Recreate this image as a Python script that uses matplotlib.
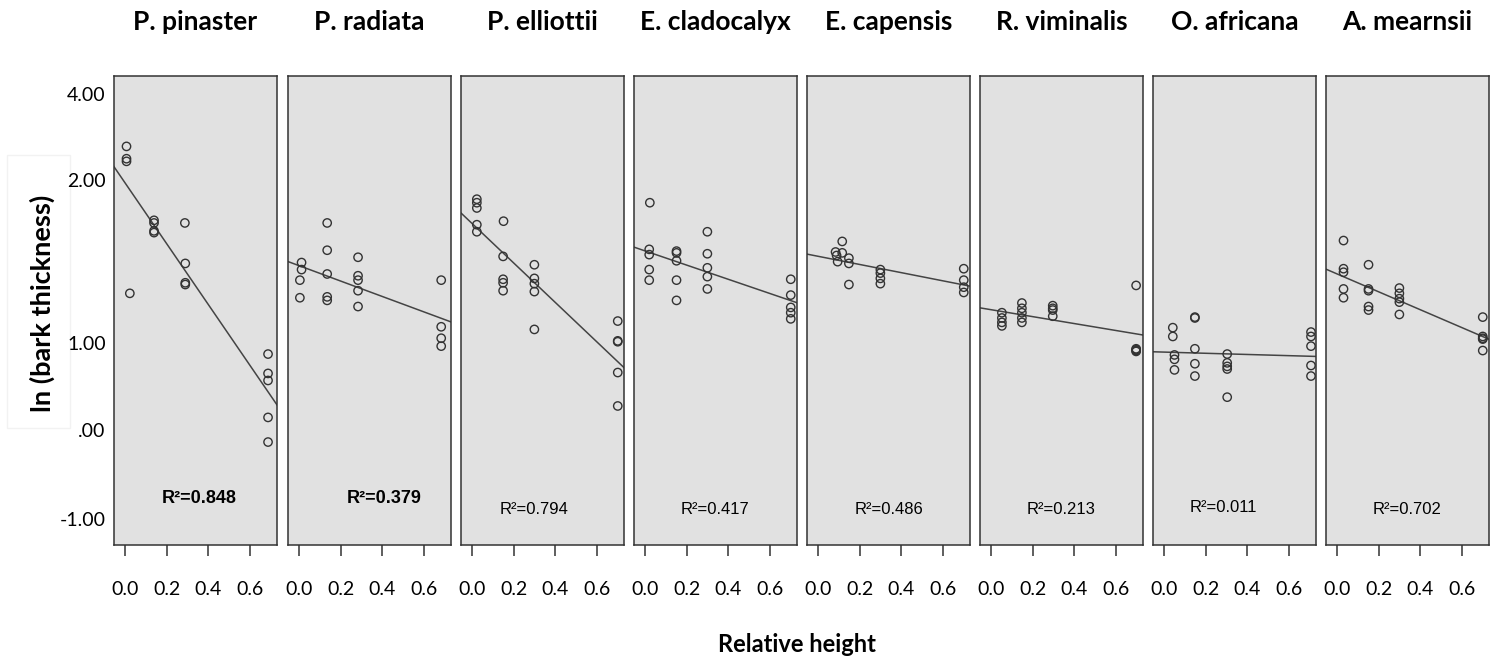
import numpy as np
import matplotlib
matplotlib.use("Agg")
import matplotlib.pyplot as plt
from matplotlib.patches import Rectangle

# species and R² printed in each panel
species = ["P. pinaster", "P. radiata", "P. elliottii", "E. cladocalyx",
           "E. capensis", "R. viminalis", "O. africana", "A. mearnsii"]
r2_labels = ["0.848", "0.379", "0.794", "0.417", "0.486", "0.213", "0.011", "0.702"]

# relative height / ln(bark thickness)
x_pinaster = [0.008, 0.008, 0.008, 0.024, 0.14, 0.14, 0.14, 0.14, 0.288, 0.29, 0.29, 0.29,
              0.687, 0.687, 0.687, 0.687, 0.687]
y_pinaster = [3.22, 3.08, 3.05, 1.55, 2.38, 2.35, 2.26, 2.24, 2.35, 1.89, 1.67, 1.65,
              0.86, 0.64, 0.56, 0.14, -0.14]

x_radiata = [0.013, 0.013, 0.005, 0.005, 0.136, 0.136, 0.136, 0.136, 0.136, 0.284, 0.284, 0.284,
             0.284, 0.284, 0.683, 0.683, 0.683, 0.683]
y_radiata = [1.90, 1.82, 1.70, 1.50, 2.35, 2.04, 1.77, 1.51, 1.47, 1.96, 1.75, 1.70,
             1.58, 1.40, 1.70, 1.17, 1.04, 0.95]

x_elliottii = [0.024, 0.024, 0.024, 0.024, 0.024, 0.152, 0.150, 0.150, 0.150, 0.150, 0.30, 0.30,
               0.30, 0.30, 0.30, 0.70, 0.70, 0.70, 0.70, 0.70]
y_elliottii = [2.62, 2.58, 2.52, 2.33, 2.25, 2.37, 1.97, 1.71, 1.67, 1.58, 1.875, 1.72,
               1.66, 1.57, 1.14, 1.235, 1.01, 1.00, 0.65, 0.27]

x_cladocalyx = [0.024, 0.021, 0.021, 0.021, 0.021, 0.152, 0.152, 0.152, 0.152, 0.152, 0.30, 0.30,
                0.30, 0.30, 0.30, 0.70, 0.70, 0.70, 0.70, 0.70]
y_cladocalyx = [2.58, 2.05, 1.99, 1.82, 1.70, 2.03, 2.01, 1.92, 1.70, 1.47, 2.25, 2.00,
                1.84, 1.74, 1.60, 1.71, 1.53, 1.39, 1.33, 1.26]

x_capensis = [0.117, 0.085, 0.09, 0.095, 0.117, 0.149, 0.149, 0.149, 0.30, 0.30, 0.30, 0.30,
              0.70, 0.70, 0.70, 0.70]
y_capensis = [2.14, 2.02, 1.98, 1.91, 2.01, 1.95, 1.89, 1.65, 1.82, 1.78, 1.72, 1.66,
              1.83, 1.70, 1.62, 1.56]

x_viminalis = [0.053, 0.053, 0.053, 0.053, 0.149, 0.149, 0.149, 0.149, 0.149, 0.297, 0.297, 0.297,
               0.297, 0.697, 0.697, 0.697, 0.697, 0.697]
y_viminalis = [1.33, 1.27, 1.22, 1.18, 1.44, 1.38, 1.33, 1.27, 1.22, 1.41, 1.38, 1.36,
               1.29, 1.64, 0.92, 0.91, 0.90, 0.89]

x_africana = [0.043, 0.043, 0.051, 0.051, 0.051, 0.149, 0.149, 0.149, 0.149, 0.149, 0.304, 0.304,
              0.304, 0.304, 0.304, 0.706, 0.706, 0.706, 0.706, 0.706]
y_africana = [1.16, 1.06, 0.85, 0.80, 0.68, 1.28, 1.27, 0.92, 0.75, 0.61, 0.86, 0.76,
              0.72, 0.69, 0.37, 1.11, 1.06, 0.95, 0.73, 0.61]

x_mearnsii = [0.032, 0.032, 0.032, 0.032, 0.032, 0.152, 0.152, 0.152, 0.152, 0.152, 0.30, 0.30,
              0.30, 0.30, 0.30, 0.70, 0.70, 0.70, 0.70, 0.70]
y_mearnsii = [2.15, 1.83, 1.79, 1.60, 1.50, 1.875, 1.60, 1.58, 1.40, 1.36, 1.61, 1.55,
              1.49, 1.45, 1.31, 1.28, 1.06, 1.04, 1.03, 0.90]

xs = [x_pinaster, x_radiata, x_elliottii, x_cladocalyx, x_capensis, x_viminalis, x_africana, x_mearnsii]
ys = [y_pinaster, y_radiata, y_elliottii, y_cladocalyx, y_capensis, y_viminalis, y_africana, y_mearnsii]

x_ticks = [0.0, 0.2, 0.4, 0.6]
x_ticklabels = ["0.0", "0.2", "0.4", "0.6"]
# the y labels in the source are not evenly spaced
y_tickpos = [3.81, 2.84, 0.99, 0.0, -1.02]
y_ticklabels = ["4.00", "2.00", "1.00", ".00", "-1.00"]

W, H = 1502, 666
fig = plt.figure(figsize=(W / 100, H / 100), dpi=100)

txt_font = ["Lato", "DejaVu Sans"]
r2_font = ["Liberation Sans", "DejaVu Sans"]

lefts = [114, 288, 461, 634, 807, 980, 1153, 1326]
pw = 163
top, bot = 76, 545
r2_xpos = [0.52, 0.59, 0.45, 0.50, 0.50, 0.50, 0.43, 0.50]
r2_ypos = [0.10, 0.10, 0.075, 0.075, 0.075, 0.075, 0.08, 0.075]

for i in range(8):
    ax = fig.add_axes([lefts[i] / W, 1 - bot / H, pw / W, (bot - top) / H])
    ax.set_facecolor("#e1e1e1")
    x = np.array(xs[i])
    y = np.array(ys[i])
    ax.scatter(x, y, s=36, facecolors="none", edgecolors="#333333", linewidths=1.0, zorder=3)
    b, a = np.polyfit(x, y, 1)
    xl = np.array([-0.06, 0.75])
    ax.plot(xl, a + b * xl, color="#444444", lw=1.1, zorder=2)
    ax.set_xlim(-0.052, 0.73)
    ax.set_ylim(-1.31, 4.02)
    for s in ax.spines.values():
        s.set_color("#333333")
        s.set_linewidth(1.1)
    ax.set_xticks(x_ticks)
    ax.set_xticklabels(x_ticklabels, fontfamily=txt_font, fontsize=14)
    ax.tick_params(axis="x", length=8, width=1.1, color="#333333", pad=18)
    if i == 0:
        ax.set_yticks(y_tickpos)
        ax.set_yticklabels(y_ticklabels, fontfamily=txt_font, fontsize=14)
        ax.tick_params(axis="y", length=0, pad=6)
    else:
        ax.set_yticks([])
    bold = i < 2
    ax.text(r2_xpos[i], r2_ypos[i], "R²=" + r2_labels[i], transform=ax.transAxes,
            ha="center", va="center", fontfamily=r2_font,
            fontsize=13 if bold else 12, fontweight="bold" if bold else "normal")
    fig.text((lefts[i] + pw / 2) / W, 1 - 22 / H, species[i], ha="center", va="center",
             fontfamily=txt_font, fontsize=19, fontweight="bold")

fig.text(42 / W, 1 - 303 / H, "ln (bark thickness)", rotation=90, ha="center", va="center",
         fontfamily=txt_font, fontsize=19.5, fontweight="bold")
# faint frame around the y label, kept behind everything
fig.patches.append(Rectangle((7 / W, 1 - 428 / H), 63 / W, 273 / H, transform=fig.transFigure,
                             fill=False, edgecolor="#f2f2f2", lw=1, zorder=-1))
fig.text(797 / W, 1 - 645 / H, "Relative height", ha="center", va="center",
         fontfamily=txt_font, fontsize=17, fontweight="bold")

fig.savefig("out.png", dpi=100, facecolor="white")
